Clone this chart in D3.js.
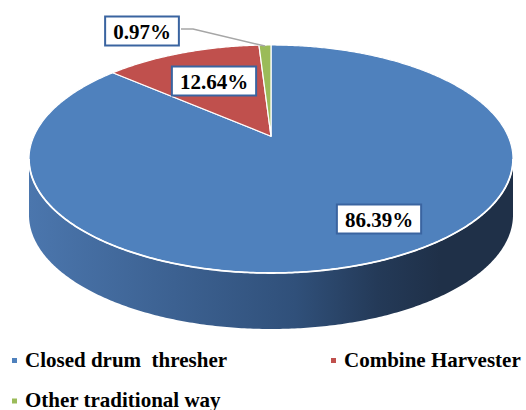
<!DOCTYPE html>
<html>
<head>
<meta charset="utf-8">
<script src="https://cdn.jsdelivr.net/npm/d3@7"></script>
<style>
  html, body { margin: 0; padding: 0; background: #fff; }
  svg { display: block; }
  text { font-family: "Liberation Serif", "Times New Roman", serif; font-weight: bold; white-space: pre; }
</style>
</head>
<body>
<svg id="chart" width="526" height="410"></svg>
<script>
// Harvesting method shares (%)
const categories = ["Closed drum  thresher", "Combine Harvester", "Other traditional way"];
const shares = [86.39, 12.64, 0.97];
const valueLabels = ["86.39%", "12.64%", "0.97%"];

// Styling / layout
const topColors = ["#4f81bd", "#c0504d", "#9bbb59"];
const W = 526, H = 410;
const cx = 271, cy = 159, rx = 242, ry = 114, depth = 56;
const persp = 0.2; // perspective strength of the tilted disc
const labelCenters = [[379, 219], [214, 81], [142, 31]];
const legendPos = [[12, 358], [331, 358], [12, 398.5]];

const svg = d3.select("#chart");
const defs = svg.append("defs");

const xScale = d3.scaleLinear().domain([-1, 1]).range([cx - rx, cx + rx]);
const yScale = d3.scaleLinear().domain([-1, 1]).range([cy + ry, cy - ry]);

// project an angle (clockwise from 12 o'clock) on the disc rim, with perspective
function proj(theta, k = 1, drop = 0) {
  const s = Math.sin(theta), co = Math.cos(theta);
  const w = 1 + persp * co * k;
  const u = k * s / w * Math.sqrt(1 - persp * persp);
  const v = (k * co / w + persp / (1 - persp * persp)) * (1 - persp * persp);
  return [xScale(u), yScale(v) + drop];
}
const centerPt = proj(0, 0);

const pie = d3.pie().sort(null).value(d => d);
const arcs = pie(shares);

function rimPoints(a0, a1, drop = 0) {
  const n = Math.max(2, Math.ceil(Math.abs(a1 - a0) / 0.01));
  const pts = [];
  for (let i = 0; i <= n; i++) pts.push(proj(a0 + (a1 - a0) * i / n, 1, drop));
  return pts;
}

// side wall gradient
const grad = defs.append("linearGradient").attr("id", "sideGrad")
  .attr("gradientUnits", "userSpaceOnUse")
  .attr("x1", cx - rx).attr("x2", cx + rx).attr("y1", 0).attr("y2", 0);
[[0, "#4b76ad"], [0.3, "#3c6191"], [0.55, "#30507a"], [0.72, "#243a58"], [0.85, "#1f3048"], [1, "#1f3048"]]
  .forEach(([o, c]) => grad.append("stop").attr("offset", o).attr("stop-color", c));

// front visible range of the wall
const thR = Math.acos(-persp), thL = 2 * Math.PI - thR;
const line = d3.line();

arcs.forEach((a) => {
  const s0 = Math.max(a.startAngle, thR), s1 = Math.min(a.endAngle, thL);
  if (s1 <= s0) return;
  const topPts = rimPoints(s0, s1);
  const botPts = rimPoints(s1, s0, depth);
  svg.append("path")
    .attr("d", line(topPts.concat(botPts)) + "Z")
    .attr("fill", "url(#sideGrad)");
});

// top faces
arcs.forEach((a, i) => {
  const pts = [centerPt].concat(rimPoints(a.startAngle, a.endAngle));
  svg.append("path")
    .attr("d", line(pts) + "Z")
    .attr("fill", topColors[i])
    .attr("stroke", "#fff")
    .attr("stroke-width", 1.2)
    .attr("stroke-linejoin", "round");
});

// white rim line along the front edge
svg.append("path")
  .attr("d", line(rimPoints(thR, thL)))
  .attr("fill", "none").attr("stroke", "#fff").attr("stroke-width", 1.8);

// leader line for the small slice
const smallMid = proj((arcs[2].startAngle + arcs[2].endAngle) / 2, 1);
svg.append("polyline")
  .attr("points", [[labelCenters[2][0] + 39, 29], [193, 29], [smallMid[0], smallMid[1] + 1]].map(p => p.join(",")).join(" "))
  .attr("fill", "none").attr("stroke", "#a6a6a6").attr("stroke-width", 1.5);

// value labels in boxes
valueLabels.forEach((t, i) => {
  const [lx, ly] = labelCenters[i];
  const g = svg.append("g").attr("transform", `translate(${lx},${ly})`);
  const txt = g.append("text")
    .attr("text-anchor", "middle").attr("y", 7.5)
    .attr("font-size", 21).attr("fill", "#000").text(t);
  const bw = txt.node().getComputedTextLength() + 16;
  g.insert("rect", "text")
    .attr("x", -bw / 2).attr("y", -14.5).attr("width", bw).attr("height", 29)
    .attr("fill", "#fff").attr("stroke", "#3a64a0").attr("stroke-width", 2);
});

// legend
categories.forEach((c, i) => {
  const [lx, ly] = legendPos[i];
  svg.append("rect").attr("x", lx).attr("y", ly).attr("width", 5).attr("height", 5).attr("fill", topColors[i]);
  svg.append("text").attr("x", lx + 13).attr("y", ly + 8.5)
    .attr("font-size", 21).attr("fill", "#000").text(c);
});
</script>
</body>
</html>
